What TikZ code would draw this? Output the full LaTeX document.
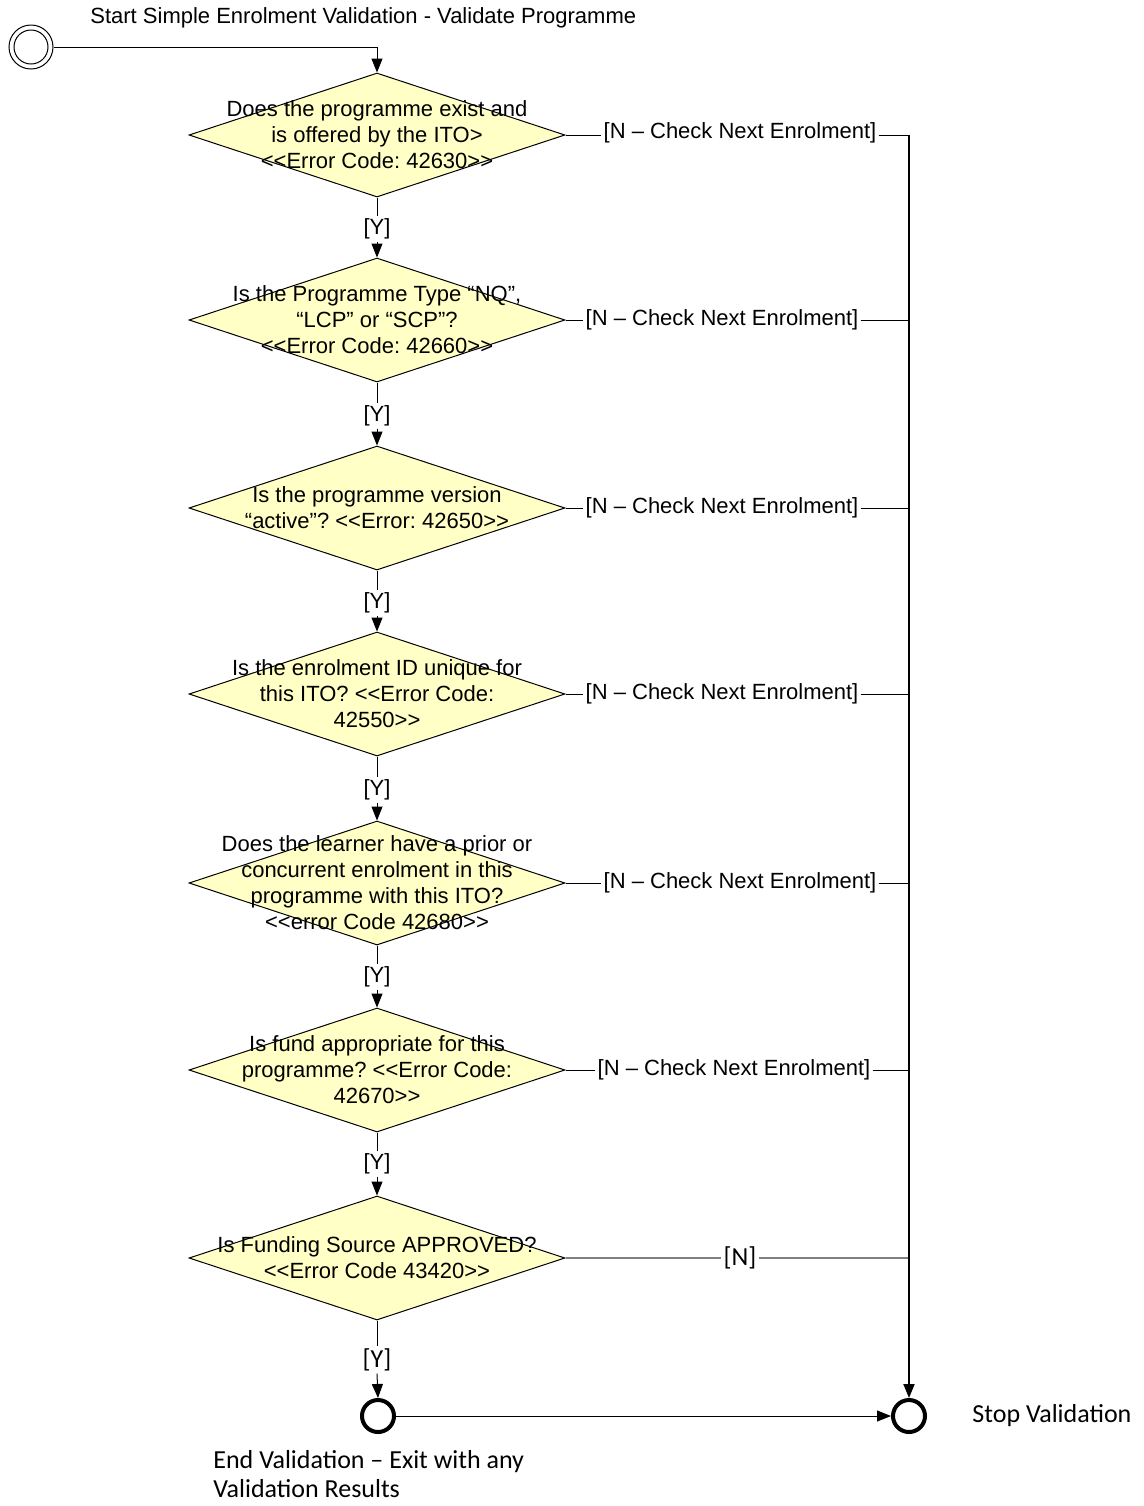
\documentclass[tikz,border=0pt]{standalone}
\usepackage{fontspec}
\setmainfont{Liberation Sans}
\newfontfamily\carlito{Carlito}
\usetikzlibrary{shapes.geometric,arrows.meta}
\definecolor{dfill}{RGB}{255,255,198}
\frenchspacing
\begin{document}
\begin{tikzpicture}[x=0.5pt,y=-0.5pt,
  decision/.style={diamond, draw, fill=dfill, line width=0.5pt, minimum width=188pt, minimum height=62pt, inner sep=0pt},
  qtext/.style={align=center, font=\fontsize{11}{13}\selectfont, inner sep=0pt},
  lbl/.style={fill=white, inner sep=1pt, font=\fontsize{11}{13}\selectfont},
  lblc/.style={fill=white, inner sep=1pt, font=\carlito\fontsize{13}{14.6}\selectfont},
  arr/.style={-{Triangle[length=7pt,width=5.5pt]}, line width=0.5pt},
  conn/.style={line width=0.5pt},
  endcirc/.style={circle, draw, line width=2pt, minimum size=16pt, inner sep=0pt}
]
\useasboundingbox (0,0) rectangle (1144,1506);

% start
\node[circle, draw, line width=0.5pt, minimum size=22pt, inner sep=0pt] (start) at (31,47) {};
\node[circle, draw, line width=0.5pt, minimum size=17pt, inner sep=0pt] (startin) at (start) {};
\node[anchor=west, inner sep=0pt, font=\fontsize{11}{13}\selectfont] (title) at (90,18) {Start Simple Enrolment Validation - Validate Programme};

% decisions
\node[decision] (d1) at (377,135) {};
\node[decision] (d2) at (377,320) {};
\node[decision] (d3) at (377,508) {};
\node[decision] (d4) at (377,694) {};
\node[decision] (d5) at (377,883) {};
\node[decision] (d6) at (377,1070) {};
\node[decision] (d7) at (377,1258) {};

\node[qtext] (t1) at (d1) {Does the programme exist and\\is offered by the ITO>\\<{}<Error Code: 42630>{}>};
\node[qtext] (t2) at (d2) {Is the Programme Type “NQ”,\\“LCP” or “SCP”?\\<{}<Error Code: 42660>{}>};
\node[qtext] (t3) at (d3) {Is the programme version\\“active”? <{}<Error: 42650>{}>};
\node[qtext] (t4) at (d4) {Is the enrolment ID unique for\\this ITO? <{}<Error Code:\\42550>{}>};
\node[qtext] (t5) at (d5) {Does the learner have a prior or\\concurrent enrolment in this\\programme with this ITO?\\<{}<error Code 42680>{}>};
\node[qtext] (t6) at (d6) {Is fund appropriate for this\\programme? <{}<Error Code:\\42670>{}>};
\node[qtext] (t7) at (d7) {Is Funding Source APPROVED?\\<{}<Error Code 43420>{}>};

% end / stop
\node[endcirc] (endv) at (378,1416) {};
\node[endcirc] (stopv) at (909,1416) {};
\node[anchor=north west, align=left, inner sep=0pt, font=\carlito\fontsize{13}{14.6}\selectfont] (endlbl) at (213,1450) {End Validation – Exit with any\\Validation Results};
\node[anchor=west, inner sep=0pt, font=\carlito\fontsize{13}{14.6}\selectfont] (stoplbl) at (972,1416) {Stop Validation};

% start connector
\draw[arr] (start.east) -| (d1.north);

% Y labels
\node[lbl] (y1) at (377,229) {[Y]};
\node[lbl] (y2) at (377,416) {[Y]};
\node[lbl] (y3) at (377,603) {[Y]};
\node[lbl] (y4) at (377,790) {[Y]};
\node[lbl] (y5) at (377,977) {[Y]};
\node[lbl] (y6) at (377,1164) {[Y]};
\node[lblc] (y7) at (377,1360) {[Y]};

\draw[conn] (d1.south) -- (y1.north); \draw[arr] (y1.south) -- (d2.north);
\draw[conn] (d2.south) -- (y2.north); \draw[arr] (y2.south) -- (d3.north);
\draw[conn] (d3.south) -- (y3.north); \draw[arr] (y3.south) -- (d4.north);
\draw[conn] (d4.south) -- (y4.north); \draw[arr] (y4.south) -- (d5.north);
\draw[conn] (d5.south) -- (y5.north); \draw[arr] (y5.south) -- (d6.north);
\draw[conn] (d6.south) -- (y6.north); \draw[arr] (y6.south) -- (d7.north);
\draw[conn] (d7.south) -- (y7.north); \draw[arr] (y7.south) -- (endv.north);

\draw[arr] (endv.east) -- (stopv.west);

% right collector
\coordinate (r1) at (909,135);
\coordinate (r2) at (909,320);
\coordinate (r3) at (909,508);
\coordinate (r4) at (909,694);
\coordinate (r5) at (909,883);
\coordinate (r6) at (909,1070);
\coordinate (r7) at (909,1258);

\node[lbl] (n1) at (740,133) {[N – Check Next Enrolment]};
\node[lbl] (n2) at (722,320) {[N – Check Next Enrolment]};
\node[lbl] (n3) at (722,508) {[N – Check Next Enrolment]};
\node[lbl] (n4) at (722,694) {[N – Check Next Enrolment]};
\node[lbl] (n5) at (740,883) {[N – Check Next Enrolment]};
\node[lbl] (n6) at (734,1070) {[N – Check Next Enrolment]};
\node[lblc] (n7) at (740,1258) {[N]};

\draw[conn] (d1.east) -- (n1.west |- d1.east); \draw[conn] (n1.east |- d1.east) -- (r1);
\draw[conn] (d2.east) -- (n2.west); \draw[conn] (n2.east) -- (r2);
\draw[conn] (d3.east) -- (n3.west); \draw[conn] (n3.east) -- (r3);
\draw[conn] (d4.east) -- (n4.west); \draw[conn] (n4.east) -- (r4);
\draw[conn] (d5.east) -- (n5.west); \draw[conn] (n5.east) -- (r5);
\draw[conn] (d6.east) -- (n6.west); \draw[conn] (n6.east) -- (r6);
\draw[gray, line width=1pt] (d7.east) -- (n7.west); \draw[gray, line width=1pt] (n7.east) -- (r7);

\draw[-{Triangle[length=7pt,width=5.5pt]}, line width=1pt] (r1) -- (stopv.north);
\end{tikzpicture}
\end{document}
